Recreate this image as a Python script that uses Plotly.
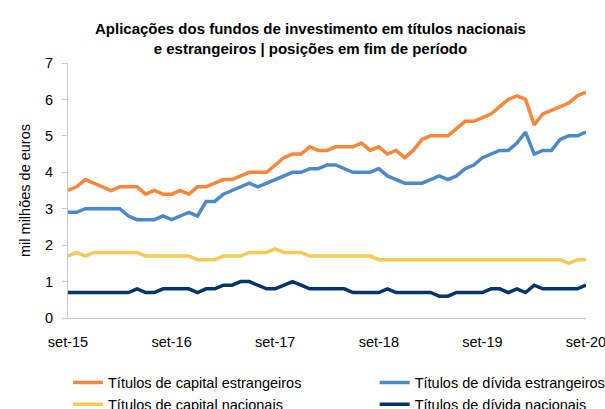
import plotly.graph_objects as go

# Monthly observations, September 2015 to September 2020 (mil milhões de euros)
meses_pt = ["jan", "fev", "mar", "abr", "mai", "jun", "jul", "ago", "set", "out", "nov", "dez"]
periodos = []
ano, mes = 2015, 9
for _ in range(61):
    periodos.append(f"{meses_pt[mes - 1]}-{ano % 100:02d}")
    mes += 1
    if mes > 12:
        mes, ano = 1, ano + 1

capital_estrangeiros = [
    3.5, 3.6, 3.8, 3.7, 3.6, 3.5, 3.6, 3.6, 3.6, 3.4,
    3.5, 3.4, 3.4, 3.5, 3.4, 3.6, 3.6, 3.7, 3.8, 3.8,
    3.9, 4.0, 4.0, 4.0, 4.2, 4.4, 4.5, 4.5, 4.7, 4.6,
    4.6, 4.7, 4.7, 4.7, 4.8, 4.6, 4.7, 4.5, 4.6, 4.4,
    4.6, 4.9, 5.0, 5.0, 5.0, 5.2, 5.4, 5.4, 5.5, 5.6,
    5.8, 6.0, 6.1, 6.0, 5.3, 5.6, 5.7, 5.8, 5.9, 6.1, 6.2,
]
divida_estrangeiros = [
    2.9, 2.9, 3.0, 3.0, 3.0, 3.0, 3.0, 2.8, 2.7, 2.7,
    2.7, 2.8, 2.7, 2.8, 2.9, 2.8, 3.2, 3.2, 3.4, 3.5,
    3.6, 3.7, 3.6, 3.7, 3.8, 3.9, 4.0, 4.0, 4.1, 4.1,
    4.2, 4.2, 4.1, 4.0, 4.0, 4.0, 4.1, 3.9, 3.8, 3.7,
    3.7, 3.7, 3.8, 3.9, 3.8, 3.9, 4.1, 4.2, 4.4, 4.5,
    4.6, 4.6, 4.8, 5.1, 4.5, 4.6, 4.6, 4.9, 5.0, 5.0, 5.1,
]
capital_nacionais = [
    1.7, 1.8, 1.7, 1.8, 1.8, 1.8, 1.8, 1.8, 1.8, 1.7,
    1.7, 1.7, 1.7, 1.7, 1.7, 1.6, 1.6, 1.6, 1.7, 1.7,
    1.7, 1.8, 1.8, 1.8, 1.9, 1.8, 1.8, 1.8, 1.7, 1.7,
    1.7, 1.7, 1.7, 1.7, 1.7, 1.7, 1.6, 1.6, 1.6, 1.6,
    1.6, 1.6, 1.6, 1.6, 1.6, 1.6, 1.6, 1.6, 1.6, 1.6,
    1.6, 1.6, 1.6, 1.6, 1.6, 1.6, 1.6, 1.6, 1.5, 1.6, 1.6,
]
divida_nacionais = [
    0.7, 0.7, 0.7, 0.7, 0.7, 0.7, 0.7, 0.7, 0.8, 0.7,
    0.7, 0.8, 0.8, 0.8, 0.8, 0.7, 0.8, 0.8, 0.9, 0.9,
    1.0, 1.0, 0.9, 0.8, 0.8, 0.9, 1.0, 0.9, 0.8, 0.8,
    0.8, 0.8, 0.8, 0.7, 0.7, 0.7, 0.7, 0.8, 0.7, 0.7,
    0.7, 0.7, 0.7, 0.6, 0.6, 0.7, 0.7, 0.7, 0.7, 0.8,
    0.8, 0.7, 0.8, 0.7, 0.9, 0.8, 0.8, 0.8, 0.8, 0.8, 0.9,
]

rotulos_eixo = ["set-15", "set-16", "set-17", "set-18", "set-19", "set-20"]

# (name, values, colour, legend column)
series = [
    ("Títulos de capital estrangeiros", capital_estrangeiros, "#F7873A", "legend"),
    ("Títulos de dívida estrangeiros", divida_estrangeiros, "#4C8AC7", "legend2"),
    ("Títulos de capital nacionais", capital_nacionais, "#F6C955", "legend"),
    ("Títulos de dívida nacionais", divida_nacionais, "#06346A", "legend2"),
]

fig = go.Figure()
for nome, valores, cor, leg in series:
    fig.add_trace(go.Scatter(
        x=periodos, y=valores, name=nome, mode="lines",
        line=dict(color=cor, width=3.5), legend=leg,
    ))

fonte = "Liberation Sans, Arial, sans-serif"
legenda_base = dict(
    orientation="v", xanchor="left", yanchor="top", y=-0.19,
    font=dict(family=fonte, size=14.5, color="#000000"),
    bgcolor="rgba(0,0,0,0)", tracegroupgap=0, traceorder="normal",
)

fig.update_layout(
    width=605, height=409,
    margin=dict(l=68, r=19, t=63, b=91, autoexpand=False),
    paper_bgcolor="white", plot_bgcolor="white",
    font=dict(family=fonte, size=14.5, color="#000000"),
    showlegend=True,
    legend=dict(legenda_base, x=0.0),
    legend2=dict(legenda_base, x=0.592),
    annotations=[dict(
        text="<b>Aplicações dos fundos de investimento em títulos nacionais<br>"
             "e estrangeiros | posições em fim de período</b>",
        xref="paper", yref="paper", x=0.468, y=1.095,
        xanchor="center", yanchor="middle", showarrow=False,
        font=dict(family=fonte, size=15, color="#000000"),
    )],
)

fig.update_xaxes(
    type="category",
    range=[0, 60],
    tickmode="array", tickvals=rotulos_eixo, ticktext=rotulos_eixo,
    showgrid=False, zeroline=False,
    showline=True, linecolor="#C8C8C8", linewidth=1,
    ticks="", tickangle=0, ticklabelstandoff=11,
    tickfont=dict(family=fonte, size=14.5),
)
fig.update_yaxes(
    range=[0, 7], dtick=1,
    showgrid=False, zeroline=False,
    showline=True, linecolor="#C8C8C8", linewidth=1,
    ticks="outside", ticklen=5, tickcolor="#C8C8C8", ticklabelstandoff=6,
    tickfont=dict(family=fonte, size=14.5),
    title=dict(text="mil milhões de euros", font=dict(family=fonte, size=14.5), standoff=10),
)

fig.write_html("out.html")
